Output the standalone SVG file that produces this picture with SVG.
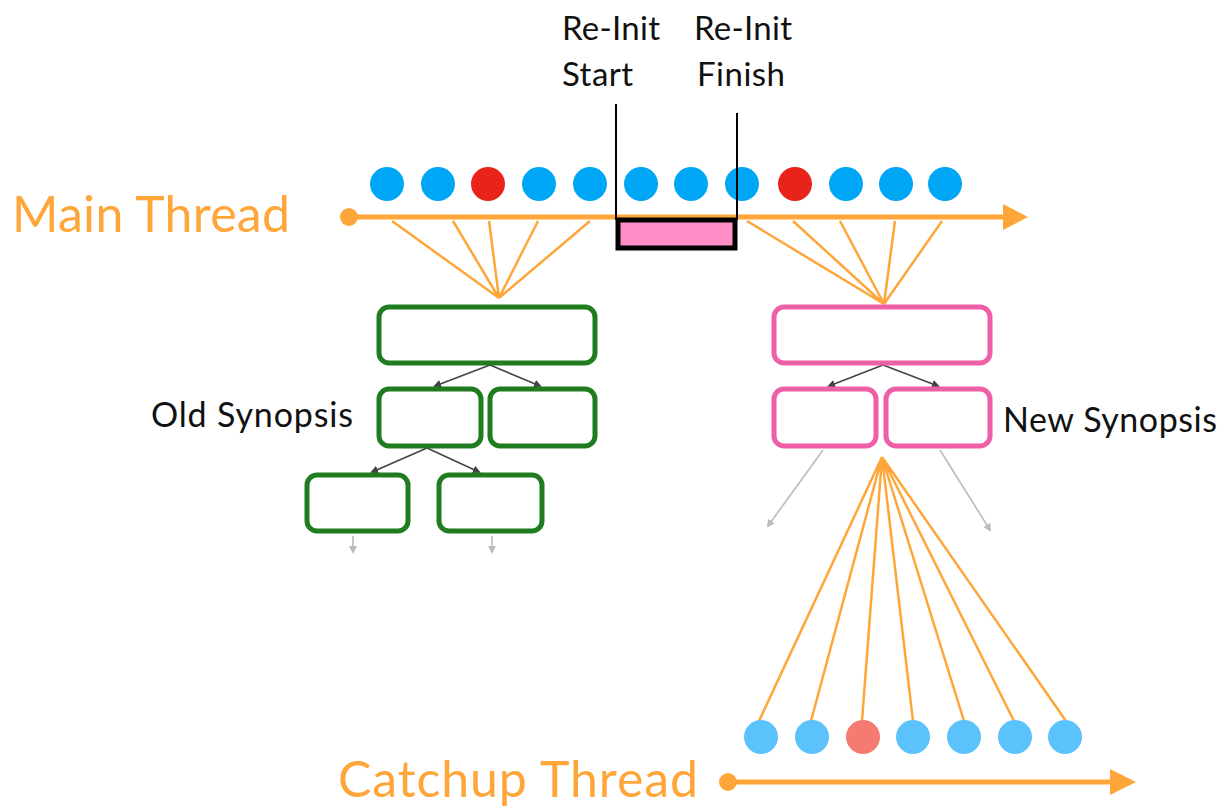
<svg xmlns="http://www.w3.org/2000/svg" width="1224" height="809" viewBox="0 0 1224 809">
  <style>
    .lbl { font-family: "Lato", "Noto Sans", "Liberation Sans", sans-serif; fill: #111; }
    .thread { font-family: "Lato", "Noto Sans", "Liberation Sans", sans-serif; fill: #ffa63a; font-size: 50px; }
    .fan { stroke: #ffa63a; stroke-width: 2.5; fill: none; }
    .axis { stroke: #ffa63a; stroke-width: 5; fill: none; }
    .old { fill: #fff; stroke: #1f7d1f; stroke-width: 5; }
    .new { fill: #fff; stroke: #ee5fa7; stroke-width: 5; }
    .edge { stroke: #444; stroke-width: 1.6; fill: none; }
    .faint { stroke: #bbb; stroke-width: 1.6; fill: none; }
    .ev { fill: #00a6f6; }
    .ev-bad { fill: #e8231a; }
    .cev { fill: #5bc2fb; }
    .cev-bad { fill: #f47a72; }
  </style>
  <defs>
    <marker id="dark" markerWidth="8" markerHeight="8" refX="6" refY="4" orient="auto" markerUnits="userSpaceOnUse">
      <path d="M0,0 L8,4 L0,8 Z" fill="#444"/>
    </marker>
    <marker id="light" markerWidth="8" markerHeight="8" refX="6" refY="4" orient="auto" markerUnits="userSpaceOnUse">
      <path d="M0,0 L8,4 L0,8 Z" fill="#bbb"/>
    </marker>
  </defs>

  <rect width="1224" height="809" fill="#fff"/>

  <!-- main thread timeline -->
  <g id="main-thread">
    <text class="thread" x="12" y="232" textLength="278">Main Thread</text>
    <line class="axis" x1="349" y1="217" x2="1006" y2="217"/>
    <circle cx="349" cy="217" r="9" fill="#ffa63a"/>
    <path d="M1003,204 L1028,217 L1003,230 Z" fill="#ffa63a"/>
  </g>

  <!-- catchup thread timeline -->
  <g id="catchup-thread">
    <text class="thread" x="338" y="797" textLength="360">Catchup Thread</text>
    <line class="axis" x1="728" y1="782" x2="1112" y2="782"/>
    <circle cx="728" cy="782" r="9" fill="#ffa63a"/>
    <path d="M1110,769 L1136,782 L1110,795 Z" fill="#ffa63a"/>
  </g>

  <!-- re-init window -->
  <g id="reinit">
    <text class="lbl" x="562" y="40" font-size="33" textLength="98">Re-Init</text>
    <text class="lbl" x="562" y="86" font-size="33" textLength="71">Start</text>
    <text class="lbl" x="694" y="40" font-size="33" textLength="98">Re-Init</text>
    <text class="lbl" x="697" y="86" font-size="33" textLength="88">Finish</text>
    <line x1="616" y1="104" x2="616" y2="220" stroke="#000" stroke-width="2"/>
    <rect x="618" y="220" width="117" height="28" fill="#ff8ec8" stroke="#000" stroke-width="5"/>
  </g>

  <!-- connectors -->
  <g id="connectors">
    <!-- main thread events into old synopsis -->
    <path class="fan" d="M392,221 L499,298 M453,221 L499,298 M489,221 L499,298 M538,221 L499,298 M590,221 L499,298"/>
    <!-- main thread events into new synopsis -->
    <path class="fan" d="M747,221 L884,304 M793,221 L884,304 M840,221 L884,304 M895,221 L884,304 M942,221 L884,304"/>
    <!-- catchup fan -->
    <path class="fan" d="M882,457 L759,721 M882,457 L811,721 M882,457 L862,721 M882,457 L913,721 M882,457 L964,721 M882,457 L1014,721 M882,457 L1066,721"/>
    <!-- old synopsis tree edges -->
    <line class="edge" x1="490" y1="365" x2="435" y2="386" marker-end="url(#dark)"/>
    <line class="edge" x1="490" y1="365" x2="540" y2="386" marker-end="url(#dark)"/>
    <line class="edge" x1="427" y1="448" x2="372" y2="472" marker-end="url(#dark)"/>
    <line class="edge" x1="427" y1="448" x2="479" y2="472" marker-end="url(#dark)"/>
    <line class="faint" x1="353" y1="536" x2="353" y2="552" marker-end="url(#light)"/>
    <line class="faint" x1="492" y1="536" x2="492" y2="552" marker-end="url(#light)"/>
    <!-- new synopsis tree edges -->
    <line class="edge" x1="883" y1="365" x2="829" y2="386" marker-end="url(#dark)"/>
    <line class="edge" x1="883" y1="365" x2="938" y2="386" marker-end="url(#dark)"/>
    <line class="faint" x1="823" y1="450" x2="768" y2="526" marker-end="url(#light)"/>
    <line class="faint" x1="940" y1="450" x2="990" y2="530" marker-end="url(#light)"/>
  </g>

  <!-- main thread events -->
  <g id="main-events">
    <circle class="ev" cx="387" cy="184" r="17"/>
    <circle class="ev" cx="438" cy="184" r="17"/>
    <circle class="ev-bad" cx="488" cy="184" r="17"/>
    <circle class="ev" cx="539" cy="184" r="17"/>
    <circle class="ev" cx="590" cy="184" r="17"/>
    <circle class="ev" cx="641" cy="184" r="17"/>
    <circle class="ev" cx="691" cy="184" r="17"/>
    <circle class="ev" cx="742" cy="184" r="17"/>
    <circle class="ev-bad" cx="795" cy="184" r="17"/>
    <circle class="ev" cx="846" cy="184" r="17"/>
    <circle class="ev" cx="896" cy="184" r="17"/>
    <circle class="ev" cx="945" cy="184" r="17"/>
  </g>
  <!-- finish marker drawn over its event -->
  <line id="reinit-finish" x1="737" y1="113" x2="737" y2="220" stroke="#000" stroke-width="2"/>

  <!-- catchup events -->
  <g id="catchup-events">
    <circle class="cev" cx="761" cy="737" r="17"/>
    <circle class="cev" cx="812" cy="737" r="17"/>
    <circle class="cev-bad" cx="863" cy="737" r="17"/>
    <circle class="cev" cx="913" cy="737" r="17"/>
    <circle class="cev" cx="964" cy="737" r="17"/>
    <circle class="cev" cx="1015" cy="737" r="17"/>
    <circle class="cev" cx="1065" cy="737" r="17"/>
  </g>

  <!-- old synopsis -->
  <g id="old-synopsis">
    <text class="lbl" x="151" y="427" font-size="34" textLength="202">Old Synopsis</text>
    <rect class="old" x="379" y="307" width="216" height="56" rx="10"/>
    <rect class="old" x="379" y="389" width="102" height="57" rx="10"/>
    <rect class="old" x="490" y="389" width="105" height="57" rx="10"/>
    <rect class="old" x="307" y="475" width="101" height="56" rx="10"/>
    <rect class="old" x="439" y="475" width="103" height="56" rx="10"/>
  </g>

  <!-- new synopsis -->
  <g id="new-synopsis">
    <text class="lbl" x="1003" y="432" font-size="34" textLength="214">New Synopsis</text>
    <rect class="new" x="774" y="307" width="216" height="56" rx="10"/>
    <rect class="new" x="774" y="389" width="102" height="57" rx="10"/>
    <rect class="new" x="886" y="389" width="104" height="57" rx="10"/>
  </g>
</svg>
